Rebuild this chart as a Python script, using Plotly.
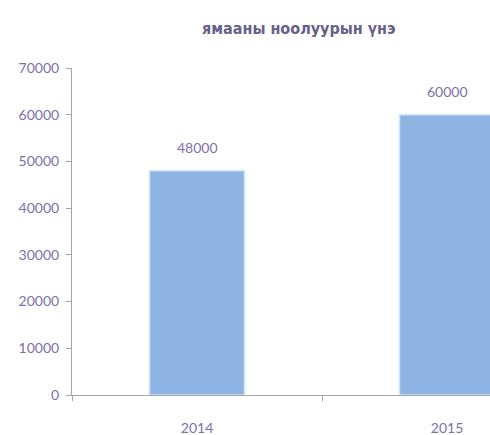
import plotly.graph_objects as go

categories = ["2014", "2015"]
values = [48000, 60000]
title_text = "ямааны ноолуурын үнэ"
y_ticks = [0, 10000, 20000, 30000, 40000, 50000, 60000, 70000]

text_color = "#7E6FAE"
bar_color = "#8DB3E2"
axis_color = "#A6A6A6"
font_family = "Lato, 'Open Sans', sans-serif"

fig = go.Figure()
fig.add_trace(go.Bar(
    x=list(range(len(categories))), y=values,
    width=0.38,
    marker=dict(color=bar_color, line=dict(color="#C9E6FA", width=1.5)),
    hoverinfo="skip",
))

for i, v in enumerate(values):
    fig.add_annotation(x=i, y=v, text=str(v), showarrow=False,
                       yanchor="middle", yshift=23,
                       font=dict(family=font_family, size=14, color=text_color))

W, H = 490, 435
L, T, B = 72, 68, 40
fig.add_annotation(xref="paper", yref="paper", x=(299 - L) / (W - L), y=1,
                   yanchor="middle", yshift=40, text="<b>" + title_text + "</b>",
                   showarrow=False,
                   font=dict(family="'DejaVu Sans Condensed', sans-serif",
                             size=16, color="#66608C"))

fig.update_layout(
    width=W, height=H,
    margin=dict(l=L, r=0, t=T, b=B),
    paper_bgcolor="white", plot_bgcolor="white",
    showlegend=False,
    font=dict(family=font_family, size=14, color=text_color),
)
fig.update_yaxes(
    range=[0, 70000], tickvals=y_ticks, ticktext=[str(t) for t in y_ticks],
    showgrid=False, zeroline=False, automargin=False,
    showline=True, linecolor=axis_color, linewidth=1,
    ticks="outside", ticklen=5, tickcolor=axis_color,
    ticklabelstandoff=4,
    tickfont=dict(family=font_family, size=14, color=text_color),
)
fig.update_xaxes(
    range=[-0.5, 1.172], tickvals=list(range(len(categories))), ticktext=categories,
    showgrid=False, zeroline=False, automargin=False,
    showline=True, linecolor=axis_color, linewidth=1,
    ticks="", ticklabelstandoff=20,
    tickfont=dict(family=font_family, size=14, color=text_color),
    minor=dict(tickvals=[-0.5, 0.5], ticks="outside", ticklen=5, tickcolor=axis_color),
)

fig.write_html(
    "out.html",
    config={"displayModeBar": False},
    post_script="document.body.style.margin='0';document.body.style.overflow='hidden';",
)
